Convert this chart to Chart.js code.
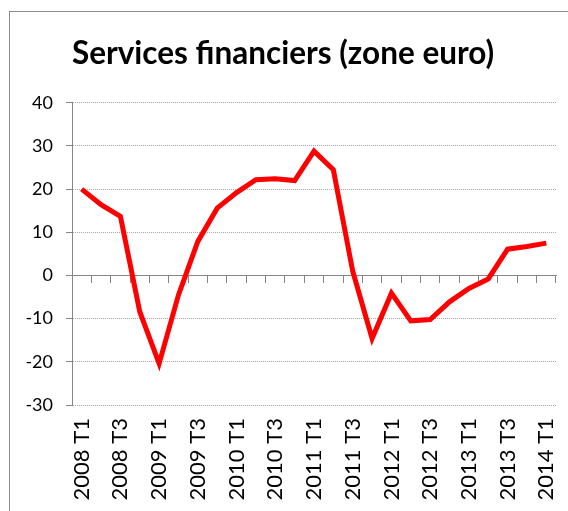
<!DOCTYPE html>
<html>
<head>
<meta charset="utf-8">
<script src="https://cdn.jsdelivr.net/npm/chart.js@4"></script>
<style>
  html, body { margin: 0; padding: 0; background: #fff; }
  canvas { display: block; }
</style>
</head>
<body>
<canvas id="servChart" width="568" height="511"></canvas>
<script>
const quarters = [
  '2008 T1', '2008 T2', '2008 T3', '2008 T4',
  '2009 T1', '2009 T2', '2009 T3', '2009 T4',
  '2010 T1', '2010 T2', '2010 T3', '2010 T4',
  '2011 T1', '2011 T2', '2011 T3', '2011 T4',
  '2012 T1', '2012 T2', '2012 T3', '2012 T4',
  '2013 T1', '2013 T2', '2013 T3', '2013 T4',
  '2014 T1'
];
const services = [
  20.0, 16.4, 13.7, -8.4,
  -20.4, -4.5, 7.9, 15.6,
  19.2, 22.2, 22.4, 22.0,
  28.8, 24.5, 1.0, -14.6,
  -4.1, -10.5, -10.2, -6.1,
  -3.0, -0.8, 6.1, 6.7,
  7.5
];
const yMin = -30;
const yMax = 40;
const yStep = 10;

const FONT = 'Lato, "Open Sans", sans-serif';

// cadre gris autour du graphique
const outerBorder = {
  id: 'outerBorder',
  beforeDraw(chart) {
    const {ctx} = chart;
    ctx.save();
    ctx.strokeStyle = '#8c8c8c';
    ctx.lineWidth = 1;
    ctx.strokeRect(9.5, 11.5, 700, 700);
    ctx.restore();
  }
};

const ctx = document.getElementById('servChart').getContext('2d');

new Chart(ctx, {
  type: 'line',
  data: {
    labels: quarters,
    datasets: [{
      label: 'Services financiers',
      data: services,
      borderColor: '#ff0000',
      backgroundColor: '#ff0000',
      borderWidth: 5,
      pointRadius: 0,
      tension: 0,
      fill: false,
      xAxisID: 'x',
      yAxisID: 'y'
    }]
  },
  options: {
    responsive: false,
    animation: false,
    layout: {
      padding: {left: 10, right: 12, top: 0, bottom: 0}
    },
    plugins: {
      legend: {display: false},
      tooltip: {enabled: false},
      title: {
        display: true,
        text: 'Services financiers (zone euro)',
        color: '#000',
        font: {family: FONT, size: 31.5, weight: 'bold'},
        padding: {top: 35, bottom: 30}
      }
    },
    scales: {
      x: {
        type: 'category',
        position: 'bottom',
        offset: true,
        grid: {display: false, drawTicks: false},
        border: {display: false},
        afterFit(scale) {
          scale.height = 106;
          scale.paddingLeft = 0;
          scale.paddingRight = 0;
        },
        ticks: {
          autoSkip: false,
          maxRotation: 90,
          minRotation: 90,
          padding: 13,
          color: '#000',
          font: {family: FONT, size: 22},
          callback(value, index) {
            return index % 2 === 0 ? this.getLabelForValue(value) : '';
          }
        }
      },
      // axe horizontal qui croise en 0
      x0: {
        type: 'category',
        position: {y: 0},
        offset: true,
        grid: {
          display: true,
          offset: true,
          drawOnChartArea: false,
          drawTicks: true,
          tickLength: 7,
          tickColor: '#868686',
          tickWidth: 1
        },
        border: {display: true, color: '#868686', width: 1},
        ticks: {display: false}
      },
      y: {
        min: yMin,
        max: yMax,
        afterFit(scale) { scale.width = 62; },
        grid: {
          color: '#a6a6a6',
          lineWidth: 1,
          drawTicks: true,
          tickLength: 6,
          tickColor: '#868686',
          tickBorderDash: []
        },
        border: {display: true, color: '#868686', width: 1, dash: [1, 1]},
        ticks: {
          stepSize: yStep,
          padding: 13,
          color: '#000',
          font: {family: FONT, size: 18}
        }
      }
    }
  },
  plugins: [outerBorder]
});
</script>
</body>
</html>
